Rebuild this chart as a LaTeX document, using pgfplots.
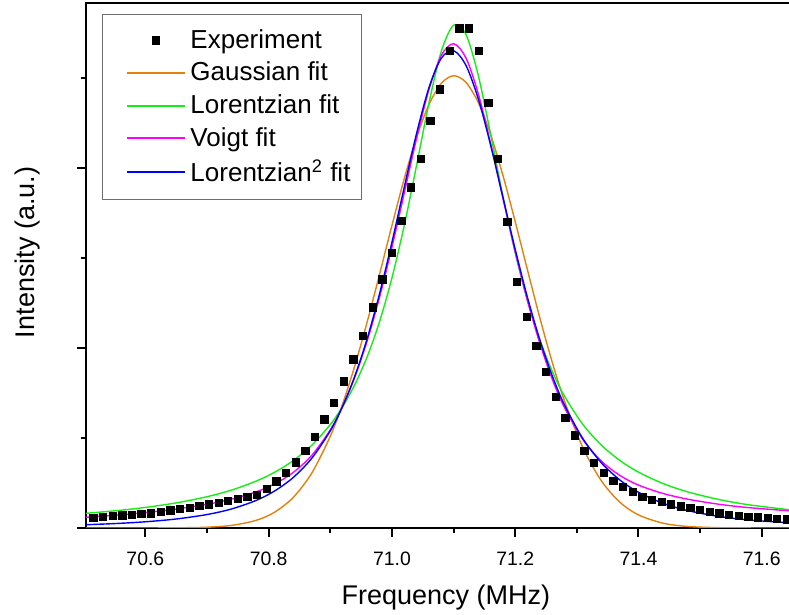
\documentclass[border=0pt]{standalone}
\usepackage{fontspec}
\setmainfont{Liberation Sans}
\usepackage{pgfplots}
\pgfplotsset{compat=1.18}
\definecolor{gaus}{RGB}{228,128,12}
\definecolor{lor}{RGB}{20,238,20}
\definecolor{voi}{RGB}{255,0,255}
\definecolor{lsq}{RGB}{0,0,255}
\definecolor{legbox}{RGB}{110,110,110}
\pgfplotsset{
  markleg/.style={legend image code/.code={\path (0pt,0pt); \draw[mark repeat=2,mark phase=2,##1] plot coordinates {(6.7pt,0pt) (21.2pt,0pt) (35.7pt,0pt)};}},
  lineleg/.style={legend image code/.code={\path (0pt,0pt); \draw[##1, line width=1pt] (6.7pt,0pt) -- (35.7pt,0pt);}},
}
\begin{document}
\begin{tikzpicture}
\begin{axis}[
  at={(0pt,0pt)}, anchor=south west,
  scale only axis, width=354.5pt, height=262.5pt,
  xmin=70.5037, xmax=71.6539, ymin=0, ymax=525,
  axis line style={line width=1pt},
  tick pos=left, tick align=outside,
  xtick={70.6,70.8,71.0,71.2,71.4,71.6},
  minor xtick={70.7,70.9,71.1,71.3,71.5},
  xticklabels={70.6,70.8,71.0,71.2,71.4,71.6},
  ytick={0,180,360}, minor ytick={90,270,450}, yticklabels={},
  major tick length=4.4pt, minor tick length=2.6pt,
  every tick/.style={black, line width=1pt},
  tick label style={font=\fontsize{9.7}{11}\selectfont},
  xticklabel style={yshift=-4pt},
  xlabel={Frequency (MHz)},
  ylabel={Intensity (a.u.)},
  label style={font=\fontsize{13.5}{16}\selectfont},
  xlabel style={at={(axis description cs:0.5075,-0.1448)}, anchor=base},
  ylabel style={at={(axis description cs:-0.0729,0.5248)}, anchor=base},
  lineleg,
  legend style={at={(axis description cs:0,1)}, anchor=north west,
    xshift=7.85pt, yshift=-5.5pt, draw=legbox,
    inner xsep=5.3pt, inner ysep=7.5pt,
    font=\fontsize{13}{16}\selectfont,
    column sep=2.35pt, row sep=5.4pt,
    nodes={inner sep=0pt}, cells={anchor=west}},
]
\addplot[only marks, mark=square*, mark size=1.83pt, black, markleg]
coordinates {
(70.5156,10.3)(70.5313,11.0)(70.5469,12.0)(70.5625,12.7)(70.5781,13.3)(70.5938,14.0)
(70.6094,14.7)(70.6250,16.0)(70.6406,17.7)(70.6563,19.0)(70.6719,20.3)(70.6875,22.0)
(70.7031,23.7)(70.7188,25.3)(70.7344,27.3)(70.7500,29.0)(70.7656,31.3)(70.7813,33.0)
(70.7969,39.0)(70.8125,46.7)(70.8281,55.0)(70.8438,65.7)(70.8594,77.0)(70.8750,91.0)
(70.8906,108.7)(70.9063,125.3)(70.9219,146.7)(70.9375,168.7)(70.9531,192.3)(70.9688,220.7)
(70.9844,248.7)(71.0000,275.3)(71.0156,307.3)(71.0313,340.5)(71.0469,369.0)(71.0625,407.0)
(71.0781,438.7)(71.0938,477.3)(71.1094,499.7)(71.1250,499.7)(71.1406,477.3)(71.1563,425.0)
(71.1719,369.3)(71.1875,306.3)(71.2031,246.3)(71.2188,211.0)(71.2344,182.0)(71.2500,156.0)
(71.2656,131.3)(71.2813,109.8)(71.2969,92.7)(71.3125,76.8)(71.3281,65.0)(71.3438,55.0)
(71.3594,47.0)(71.3750,41.3)(71.3906,36.3)(71.4063,31.3)(71.4219,28.3)(71.4375,26.0)
(71.4531,23.7)(71.4688,21.7)(71.4844,20.0)(71.5000,18.0)(71.5156,16.3)(71.5313,14.7)
(71.5469,13.3)(71.5625,12.3)(71.5781,11.3)(71.5938,10.7)(71.6094,10.0)(71.6250,9.3)
(71.6406,8.7)
};
\addlegendentry{Experiment}
\addplot[gaus, line width=0.7pt, smooth] coordinates {
(70.50,0)(70.55,0)(70.60,0.02)(70.65,0.15)(70.70,0.78)(70.74,2.62)(70.78,7.70)
(70.81,15.92)(70.84,30.65)(70.87,54.95)(70.90,91.7)(70.92,124.1)(70.94,162.6)
(70.96,206.4)(70.98,253.9)(71.00,302.5)(71.02,349.3)(71.04,390.7)(71.06,423.4)
(71.08,444.6)(71.10,452.3)(71.12,445.7)(71.14,425.6)(71.16,393.7)(71.18,352.8)
(71.20,306.4)(71.22,257.8)(71.24,210.1)(71.26,165.9)(71.28,126.9)(71.31,80.0)
(71.34,47.0)(71.37,25.7)(71.40,13.1)(71.44,4.77)(71.48,1.53)(71.53,0.31)
(71.58,0.05)(71.66,0)
};
\addlegendentry{Gaussian fit}
\addplot[lor, line width=0.7pt, smooth] coordinates {
(70.50,14.51)(70.55,17.15)(70.60,20.57)(70.65,25.10)(70.70,31.27)(70.74,37.95)
(70.78,46.95)(70.81,55.87)(70.84,67.45)(70.87,82.76)(70.90,103.4)(70.92,121.3)
(70.94,143.6)(70.96,171.5)(70.98,206.5)(71.00,250.0)(71.02,302.5)(71.04,362.7)
(71.06,424.7)(71.08,476.5)(71.10,502.8)(71.12,493.7)(71.14,452.8)(71.16,394.1)
(71.18,331.9)(71.20,275.1)(71.22,227.1)(71.24,188.1)(71.26,156.8)(71.28,131.8)
(71.31,103.4)(71.34,82.76)(71.37,67.45)(71.40,55.87)(71.44,44.43)(71.48,36.10)
(71.53,28.56)(71.58,23.12)(71.66,17.15)
};
\addlegendentry{Lorentzian fit}
\addplot[voi, line width=0.7pt, smooth] coordinates {
(70.50,10.6)(70.55,12.7)(70.60,15.4)(70.65,19.0)(70.70,23.7)(70.74,28.9)
(70.78,36.2)(70.81,44.1)(70.84,55.6)(70.87,72.6)(70.90,98.1)(70.92,121.5)
(70.94,151.1)(70.96,187.5)(70.98,231.0)(71.00,280.8)(71.02,335.0)(71.04,389.7)
(71.06,438.4)(71.08,472.6)(71.10,484.3)(71.12,470.2)(71.14,434.4)(71.16,384.8)
(71.18,330.1)(71.20,276.3)(71.22,227.2)(71.24,184.6)(71.26,149.0)(71.28,120.3)
(71.31,88.3)(71.34,66.8)(71.37,52.5)(71.40,42.9)(71.44,34.5)(71.48,28.8)
(71.53,23.8)(71.58,20.3)(71.66,16.5)
};
\addlegendentry{Voigt fit}
\addplot[lsq, line width=0.7pt, smooth] coordinates {
(70.50,3.20)(70.55,4.40)(70.60,6.21)(70.65,9.00)(70.70,13.46)(70.74,19.05)
(70.78,27.63)(70.81,37.12)(70.84,50.56)(70.87,69.75)(70.90,97.21)(70.92,121.65)
(70.94,152.20)(70.96,189.69)(70.98,234.45)(71.00,285.67)(71.02,340.69)(71.04,394.54)
(71.06,440.13)(71.08,469.70)(71.10,477.3)(71.12,462.73)(71.14,429.37)(71.16,383.16)
(71.18,330.96)(71.20,278.66)(71.22,230.29)(71.24,187.95)(71.26,152.25)(71.28,122.91)
(71.31,89.15)(71.34,65.04)(71.37,47.92)(71.40,35.73)(71.44,24.65)(71.48,17.39)
(71.53,11.60)(71.58,7.97)(71.66,4.63)
};
\addlegendentry{Lorentzian\textsuperscript{2} fit}
\end{axis}
\pgfresetboundingbox
\path[use as bounding box] (-43pt,-43.5pt) rectangle (351.5pt,264pt);
\end{tikzpicture}
\end{document}
